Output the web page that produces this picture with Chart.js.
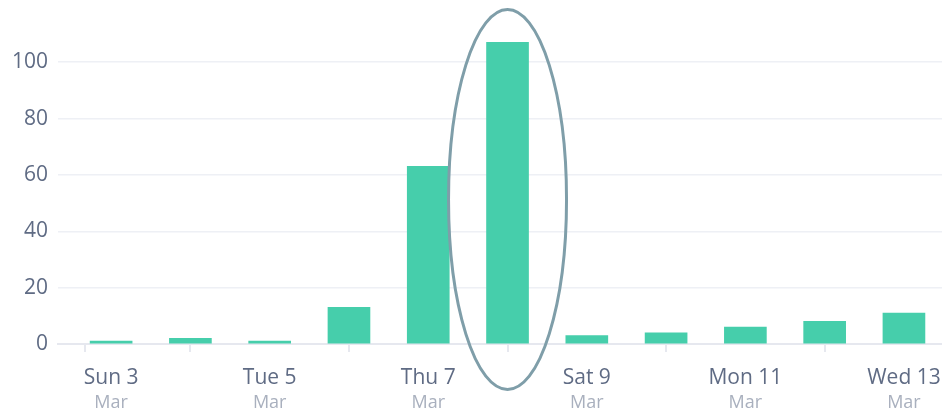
<!DOCTYPE html>
<html>
<head>
<meta charset="utf-8">
<script src="https://cdn.jsdelivr.net/npm/chart.js@4.4.1/dist/chart.umd.min.js"></script>
<style>
  html, body { margin: 0; padding: 0; background: #fff; }
  #wrap { width: 942px; height: 408px; }
</style>
</head>
<body>
<div id="wrap"><canvas id="grafik"></canvas></div>
<script>
const hari = ["Sun 3", "Mon 4", "Tue 5", "Wed 6", "Thu 7", "Fri 8", "Sat 9", "Sun 10", "Mon 11", "Tue 12", "Wed 13"];
const bulan = ["Mar", "Mar", "Mar", "Mar", "Mar", "Mar", "Mar", "Mar", "Mar", "Mar", "Mar"];
const jumlah = [1, 2, 1, 13, 63, 107, 3, 4, 6, 8, 11];
const tickY = [0, 20, 40, 60, 80, 100];
const sorot = 5; // bar yang dilingkari

const X_MIN = -0.67, X_MAX = 10.48;

function tickGenap(scale, tambahMin) {
  const t = [];
  if (tambahMin) t.push({ value: X_MIN });
  hari.forEach((_, i) => { if (i % 2 === 0) t.push({ value: i }); });
  scale.ticks = t;
}

function pasX(tinggi) {
  return s => {
    s.height = tinggi;
    s.paddingLeft = 0;
    s.paddingRight = 0;
  };
}

// elips di sekitar bar yang disorot
const elips = {
  id: "elips",
  afterDraw(chart) {
    const { ctx, scales } = chart;
    const cx = scales.x.getPixelForValue(sorot);
    ctx.save();
    ctx.beginPath();
    ctx.ellipse(cx, 199.5, 59, 190, 0, 0, Math.PI * 2);
    ctx.strokeStyle = "#7f9ea9";
    ctx.lineWidth = 3;
    ctx.stroke();
    ctx.restore();
  }
};

new Chart(document.getElementById("grafik"), {
  type: "bar",
  data: {
    datasets: [{
      data: jumlah.map((v, i) => ({ x: i, y: v })),
      backgroundColor: "#46ceab",
      barThickness: 42
    }]
  },
  options: {
    responsive: true,
    maintainAspectRatio: false,
    animation: false,
    layout: { padding: { top: 34, right: 0, left: 0, bottom: 0 } },
    plugins: { legend: { display: false }, tooltip: { enabled: false } },
    scales: {
      x: {
        type: "linear",
        offset: false,
        min: X_MIN,
        max: X_MAX,
        weight: 0,
        afterBuildTicks: s => tickGenap(s, true),
        afterFit: pasX(46),
        grid: { drawOnChartArea: false, drawTicks: true, tickLength: 8, color: "#e6e8ef", lineWidth: 2 },
        border: { display: true, color: "#e6e8ef", width: 2 },
        ticks: {
          padding: 13,
          maxRotation: 0,
          autoSkip: false,
          color: "#5f6b84",
          font: { family: "Open Sans", size: 21 },
          callback: v => (Number.isInteger(v) ? hari[v] : "")
        }
      },
      x2: {
        type: "linear",
        position: "bottom",
        offset: false,
        min: X_MIN,
        max: X_MAX,
        weight: 1,
        afterBuildTicks: s => tickGenap(s, false),
        afterFit: pasX(18),
        grid: { display: false, drawTicks: false },
        border: { display: false },
        ticks: {
          padding: 2,
          maxRotation: 0,
          autoSkip: false,
          color: "#a9b0be",
          font: { family: "Open Sans", size: 18 },
          callback: v => bulan[v]
        }
      },
      y: {
        min: 0,
        max: 110,
        afterBuildTicks: s => { s.ticks = tickY.map(v => ({ value: v })); },
        afterFit: s => { s.width = 58; },
        grid: { drawTicks: false, color: "#eef0f5", lineWidth: 1.5 },
        border: { display: false },
        ticks: {
          padding: 10,
          color: "#5f6b84",
          font: { family: "Open Sans", size: 21 }
        }
      }
    }
  },
  plugins: [elips]
});
</script>
</body>
</html>
